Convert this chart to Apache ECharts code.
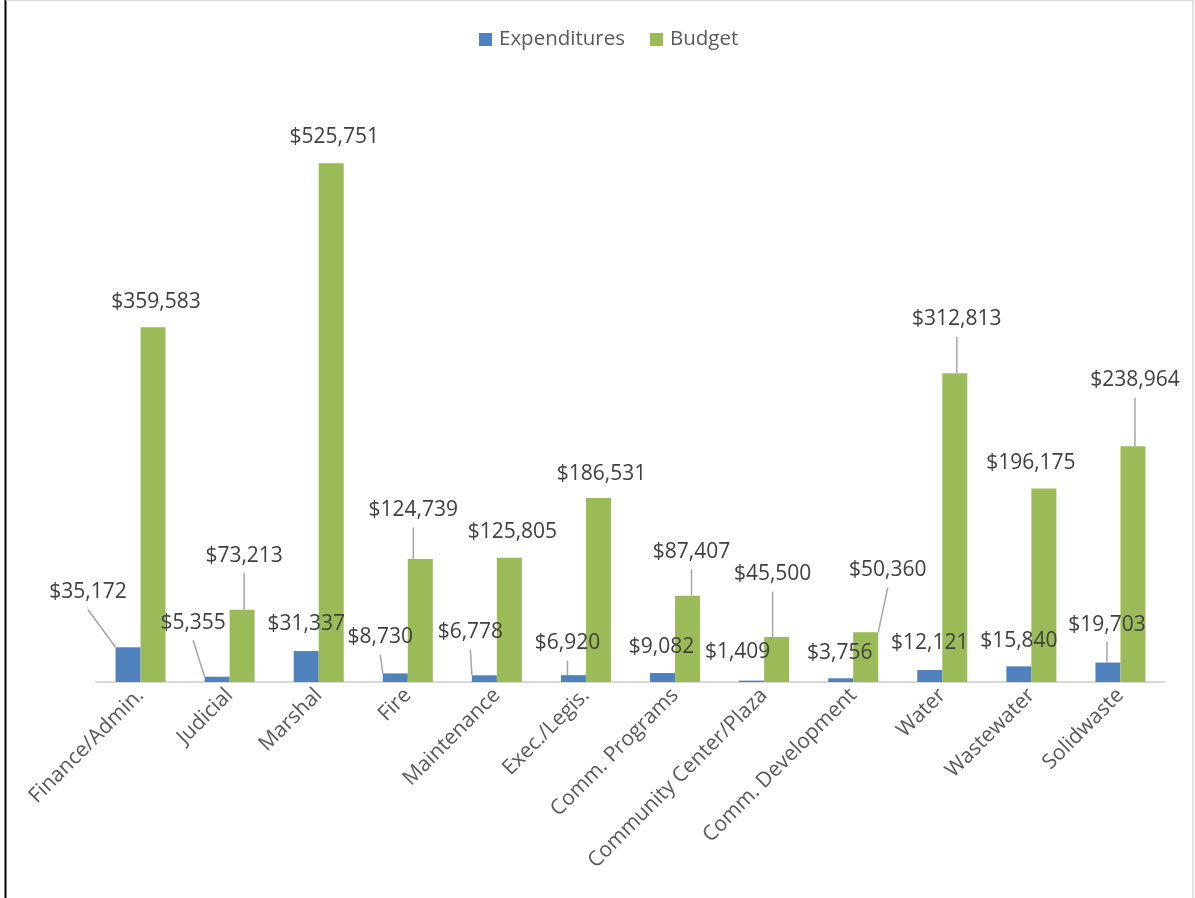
<!DOCTYPE html>
<html>
<head>
<meta charset="utf-8">
<script src="https://cdn.jsdelivr.net/npm/echarts@6/dist/echarts.min.js"></script>
<style>
html,body{margin:0;padding:0;background:#fff;}
#chart{width:1195px;height:898px;}
</style>
</head>
<body>
<div id="chart"></div>
<script>
// ---- data ----
const categories = ['Finance/Admin.', 'Judicial', 'Marshal', 'Fire', 'Maintenance', 'Exec./Legis.',
  'Comm. Programs', 'Community Center/Plaza', 'Comm. Development', 'Water', 'Wastewater', 'Solidwaste'];
const expenditures = [35172, 5355, 31337, 8730, 6778, 6920, 9082, 1409, 3756, 12121, 15840, 19703];
const budget = [359583, 73213, 525751, 124739, 125805, 186531, 87407, 45500, 50360, 312813, 196175, 238964];
const seriesNames = ['Expenditures', 'Budget'];

// ---- label styling (offsets from default label spot, leader line flags) ----
const expLabelShift = [[-40,-30],[-24,-29],[0,-2],[-15,-11],[-14,-18],[-6,-7],[-1,-1],[-14,-4],[-1,0],[0,-2],[0,0],[-1,-13]];
const budLabelShift = [[3,0],[2,-29],[3,-1],[-7,-24],[3,-1],[3,1],[4,-19],[-4,-38],[22,-37],[2,-29],[-13,0],[2,-41]];
const expLeader = [1,1,0,1,1,1,0,0,0,0,0,1];
const budLeader = [0,1,0,1,0,0,1,1,1,1,0,1];

const FONT = '"Open Sans", "Noto Sans", sans-serif';
const fmt = v => '$' + Number(v).toLocaleString('en-US');

function buildData(values, leaders) {
  return values.map((v, i) => ({ value: v, labelLine: { show: !!leaders[i] } }));
}
function layoutFor(shifts) {
  return function (p) {
    const s = shifts[p.dataIndex] || [0, 0];
    return {
      x: p.rect.x + p.rect.width / 2 + s[0],
      y: p.rect.y - 25 + s[1],
      align: 'center',
      verticalAlign: 'middle'
    };
  };
}
const labelBase = {
  show: true,
  formatter: p => fmt(p.value),
  fontFamily: FONT,
  fontSize: 21,
  lineHeight: 21,
  color: '#404040',
  padding: [7, 4, 7, 4]
};
const lineBase = { show: false, lineStyle: { color: '#a6a6a6', width: 1.5 } };

const chart = echarts.init(document.getElementById('chart'), null, { renderer: 'canvas' });
chart.setOption({
  animation: false,
  backgroundColor: '#ffffff',
  color: ['#4f81bd', '#9bbb59'],
  textStyle: { fontFamily: FONT },
  legend: {
    top: 24,
    left: 474,
    icon: 'rect',
    itemWidth: 13,
    itemHeight: 13,
    itemGap: 25,
    textStyle: { fontFamily: FONT, fontSize: 20.5, color: '#595959', padding: [0, 0, 0, 2] },
    data: seriesNames
  },
  grid: { left: 96, right: 30, top: 90, bottom: 216, containLabel: false, outerBoundsMode: 'none' },
  xAxis: {
    type: 'category',
    data: categories,
    axisLine: { show: true, lineStyle: { color: '#d9d9d9', width: 2 } },
    axisTick: { show: false },
    axisLabel: { rotate: 45, margin: 10, fontFamily: FONT, fontSize: 21, color: '#595959', interval: 0 }
  },
  yAxis: {
    type: 'value',
    min: 0,
    max: 600000,
    show: false,
    splitLine: { show: false }
  },
  series: [
    {
      name: seriesNames[0],
      type: 'bar',
      barWidth: 25,
      barGap: '0%',
      data: buildData(expenditures, expLeader),
      label: labelBase,
      labelLine: lineBase,
      labelLayout: layoutFor(expLabelShift)
    },
    {
      name: seriesNames[1],
      type: 'bar',
      barWidth: 25,
      barGap: '0%',
      data: buildData(budget, budLeader),
      label: labelBase,
      labelLine: lineBase,
      labelLayout: layoutFor(budLabelShift)
    }
  ],
  graphic: [
    { type: 'line', shape: { x1: 5.5, y1: 0, x2: 5.5, y2: 898 }, style: { stroke: '#000000', lineWidth: 2 } },
    { type: 'line', shape: { x1: 6, y1: 0.5, x2: 1193, y2: 0.5 }, style: { stroke: '#d9d9d9', lineWidth: 1.5 } },
    { type: 'line', shape: { x1: 1193, y1: 0, x2: 1193, y2: 898 }, style: { stroke: '#d9d9d9', lineWidth: 1.5 } }
  ]
});
</script>
</body>
</html>
